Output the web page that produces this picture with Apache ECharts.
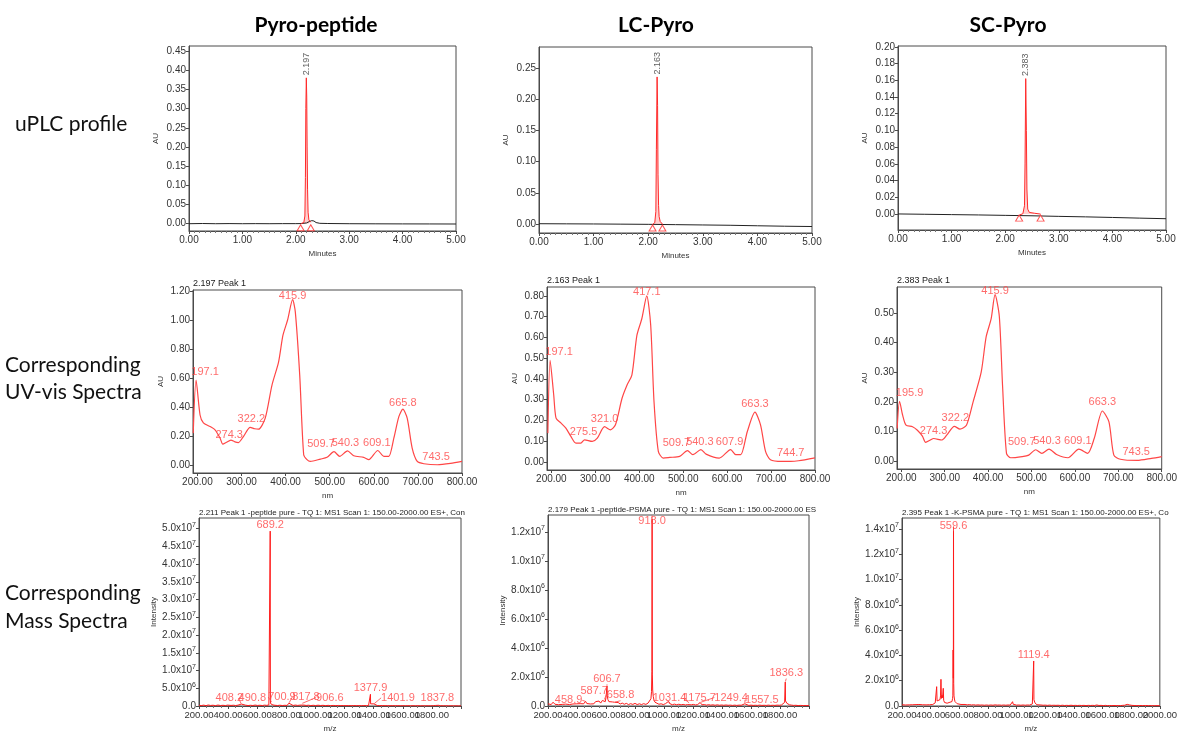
<!DOCTYPE html>
<html>
<head>
<meta charset="utf-8">
<script src="https://cdn.jsdelivr.net/npm/echarts@6/dist/echarts.min.js"></script>
<style>
  html, body { margin: 0; padding: 0; background: #fff; }
  #chart { width: 1180px; height: 734px; }
</style>
</head>
<body>
<div id="chart"></div>
<script>
// ---- text
var columnTitles = ['Pyro-peptide', 'LC-Pyro', 'SC-Pyro'];
var rowTitles = [['uPLC profile'], ['Corresponding', 'UV-vis Spectra'], ['Corresponding', 'Mass Spectra']];
var uvTitles = ['2.197 Peak 1', '2.163 Peak 1', '2.383 Peak 1'];
var msTitles = [
  '2.211 Peak 1 -peptide pure - TQ 1: MS1 Scan 1: 150.00-2000.00 ES+, Con',
  '2.179 Peak 1 -peptide-PSMA pure - TQ 1: MS1 Scan 1: 150.00-2000.00 ES',
  '2.395 Peak 1 -K-PSMA pure - TQ 1: MS1 Scan 1: 150.00-2000.00 ES+, Co'
];

// ---- uPLC profiles: [minutes, AU]
var plcBase1 = [[0,0],[0.25,0.0005],[0.5,0],[0.75,0.0003],[1,0],[1.25,0.0002],[1.5,0],[1.75,0.0002],[2,0.0002],[2.1,0.0003],[2.2,0.002],[2.26,0.006],[2.3,0.008],[2.34,0.007],[2.38,0.003],[2.45,0.001],[2.6,0.0005],[3,0],[3.5,-0.0003],[4,-0.0005],[4.5,-0.0006],[5,-0.0008]];
var plcPeak1 = [[2.10,0.0005],[2.15,0.003],[2.17,0.02],[2.18,0.12],[2.188,0.30],[2.197,0.38],[2.205,0.33],[2.212,0.2],[2.22,0.09],[2.23,0.03],[2.245,0.01],[2.28,0.004]];
var plcMarks1 = [[2.09,0],[2.28,0]];
var plcApex1 = [[2.197,0.38]];

var plcBase2 = [[0,0.0005],[0.5,0.0003],[1,0.0001],[1.5,-0.0002],[2,-0.0005],[2.5,-0.001],[3,-0.0015],[3.5,-0.002],[4,-0.0028],[4.5,-0.0035],[5,-0.004]];
var plcPeak2 = [[2.08,-0.0006],[2.12,0.002],[2.14,0.02],[2.15,0.12],[2.163,0.236],[2.172,0.19],[2.18,0.08],[2.19,0.03],[2.2,0.012],[2.22,0.004],[2.26,0.0]];
var plcMarks2 = [[2.08,0],[2.26,0]];
var plcApex2 = [[2.163,0.236]];

var plcBase3 = [[0,0.0002],[0.5,-0.0002],[1,-0.0006],[1.5,-0.001],[2,-0.0015],[2.5,-0.002],[3,-0.0027],[3.5,-0.0033],[4,-0.004],[4.5,-0.0048],[5,-0.0055]];
var plcPeak3 = [[2.27,-0.001],[2.33,0.0005],[2.36,0.01],[2.37,0.06],[2.383,0.162],[2.395,0.1],[2.405,0.03],[2.42,0.006],[2.45,0.002],[2.55,0.001],[2.66,0.0]];
var plcMarks3 = [[2.26,0],[2.66,0]];
var plcApex3 = [[2.383,0.162]];

var plcTicks1 = [0,0.05,0.10,0.15,0.20,0.25,0.30,0.35,0.40,0.45];
var plcTicks2 = [0,0.05,0.10,0.15,0.20,0.25];
var plcTicks3 = [0,0.02,0.04,0.06,0.08,0.10,0.12,0.14,0.16,0.18,0.20];

// ---- UV-vis spectra: [nm, AU]
var uv1 = [[190.5,0.22],[197,0.586],[206,0.345],[213.6,0.29],[229,0.265],[240,0.243],[251.5,0.185],[257.6,0.144],[265,0.155],[276,0.172],[285,0.16],[293,0.155],[305,0.2],[319.7,0.26],[330,0.25],[338.6,0.247],[353.8,0.323],[369,0.55],[384,0.71],[394,0.895],[404.5,1.0],[415.9,1.14],[422,1.056],[432,0.62],[441,0.071],[448.5,0.037],[456,0.025],[479,0.041],[494,0.053],[509.7,0.092],[522.7,0.06],[540.3,0.097],[554.5,0.064],[577,0.053],[588.6,0.037],[609.1,0.1],[622.7,0.06],[634,0.06],[645.4,0.185],[656.8,0.334],[665.8,0.385],[675.7,0.323],[687,0.117],[698.5,0.025],[713.6,0.009],[744,0.002],[774,0.011],[800,0.025]];
var uvPeaks1 = [[197.1,0.586],[274.3,0.172],[322.2,0.26],[415.9,1.14],[509.7,0.092],[540.3,0.097],[609.1,0.1],[665.8,0.385],[743.5,0.002]];

var uv2 = [[192,0.139],[197.1,0.49],[205.3,0.323],[210.6,0.211],[222,0.187],[233,0.163],[244.4,0.123],[255.7,0.091],[267,0.091],[275.5,0.107],[293,0.099],[304.5,0.115],[321,0.17],[334.5,0.155],[345.8,0.179],[360.8,0.307],[372,0.37],[383.3,0.42],[394.6,0.61],[405.8,0.69],[417.1,0.80],[426,0.66],[433.6,0.29],[443.4,0.051],[454.6,0.019],[469.6,0.022],[492,0.027],[509.7,0.055],[522,0.035],[540.3,0.06],[552,0.038],[582,0.019],[607.9,0.06],[619.8,0.035],[631,0.035],[646,0.147],[663.3,0.24],[676,0.179],[687.4,0.051],[698.6,0.011],[725,0.003],[744.7,0.003],[762.5,0.006],[800,0.02]];
var uvPeaks2 = [[197.1,0.49],[275.5,0.107],[321.0,0.17],[417.1,0.80],[509.7,0.055],[540.3,0.06],[607.9,0.06],[663.3,0.24],[744.7,0.003]];

var uv3 = [[190.4,0.11],[195.9,0.202],[203,0.155],[210.8,0.121],[225.8,0.116],[237,0.104],[248.5,0.084],[256,0.063],[267,0.071],[274.3,0.076],[293.7,0.071],[305,0.088],[322.2,0.117],[335,0.108],[350,0.121],[365.4,0.2],[384,0.30],[395.5,0.42],[406.9,0.48],[415.9,0.562],[425.7,0.49],[433.2,0.256],[442.3,0.026],[452,0.011],[478.5,0.015],[493.6,0.02],[509.7,0.038],[523.7,0.026],[540.3,0.04],[557.7,0.022],[584,0.011],[609.1,0.04],[629.3,0.026],[644.4,0.076],[663.3,0.169],[678.3,0.133],[689.7,0.02],[704.8,0.006],[743.5,0.002],[776.5,0.009],[800,0.015]];
var uvPeaks3 = [[195.9,0.202],[274.3,0.076],[322.2,0.117],[415.9,0.562],[509.7,0.038],[540.3,0.04],[609.1,0.04],[663.3,0.169],[743.5,0.002]];

var uvTicksX = [200,300,400,500,600,700,800];
var uvTicks1 = [0,0.2,0.4,0.6,0.8,1.0,1.2];
var uvTicks2 = [0,0.1,0.2,0.3,0.4,0.5,0.6,0.7,0.8];
var uvTicks3 = [0,0.1,0.2,0.3,0.4,0.5];

// ---- mass spectra: [m/z, intensity]
var ms1 = [[200,2.0e5],[215,1.2e5],[232,2.4e5],[248,1.0e5],[263,2.8e5],[280,1.5e5],[296,2.2e5],[313,1.1e5],[330,2.6e5],[348,1.4e5],[365,2.0e5],[382,1.2e5],[396,2.5e5],[408.2,6.0e5],[420,1.6e5],[437,2.2e5],[452,1.3e5],[468,2.4e5],[480,1.8e5],[490.8,5.5e5],[503,1.5e5],[520,2.3e5],[537,1.2e5],[553,2.0e5],[570,1.4e5],[586,2.6e5],[602,1.5e5],[618,2.1e5],[635,1.3e5],[650,2.4e5],[666,1.8e5],[680,3.0e5],[687.5,5.0e5],[689.2,4.93e7],[690.5,1.4e6],[693,6.0e5],[700.9,1.1e6],[708,3.0e5],[722,2.0e5],[740,1.4e5],[756,2.2e5],[772,1.3e5],[790,2.0e5],[805,1.5e5],[817.8,8.0e5],[830,2.4e5],[846,1.5e5],[862,2.6e5],[878,1.6e5],[893,2.4e5],[906.6,7.0e5],[920,2.6e5],[936,1.5e5],[952,2.2e5],[968,1.2e5],[985,2.0e5],[1000,1.3e5],[1018,2.2e5],[1035,1.4e5],[1052,1.9e5],[1070,1.1e5],[1088,1.8e5],[1105,1.0e5],[1122,1.6e5],[1140,1.0e5],[1158,1.5e5],[1175,0.9e5],[1192,1.4e5],[1210,0.9e5],[1228,1.3e5],[1245,0.8e5],[1262,1.4e5],[1280,0.9e5],[1298,1.2e5],[1315,0.8e5],[1332,1.3e5],[1350,0.9e5],[1365,1.5e5],[1376,4.0e5],[1377.9,3.3e6],[1379,6.0e5],[1385,2.0e5],[1401.9,6.0e5],[1410,2.0e5],[1425,1.2e5],[1442,0.9e5],[1460,1.3e5],[1478,0.8e5],[1495,1.1e5],[1512,0.7e5],[1530,1.0e5],[1548,0.7e5],[1565,1.0e5],[1582,0.6e5],[1600,0.9e5],[1618,0.6e5],[1635,0.9e5],[1652,0.6e5],[1670,0.8e5],[1688,0.5e5],[1705,0.8e5],[1722,0.5e5],[1740,0.7e5],[1758,0.5e5],[1775,0.7e5],[1792,0.5e5],[1810,0.8e5],[1825,1.5e5],[1837.8,7.0e5],[1845,2.0e5],[1860,0.8e5],[1878,0.5e5],[1895,0.7e5],[1912,0.4e5],[1930,0.6e5],[1948,0.4e5],[1965,0.5e5],[1982,0.3e5],[2000,0.4e5]];
var msPeaks1 = [[689.2,4.93e7],[408.2,6.0e5],[490.8,5.5e5],[700.9,1.1e6],[817.8,8.0e5],[906.6,7.0e5],[1377.9,3.3e6],[1401.9,6.0e5],[1837.8,7.0e5]];

var ms2 = [[200,1.5e5],[210,2.2e5],[222,1.0e5],[235,2.6e5],[248,1.2e5],[260,1.8e5],[272,0.9e5],[285,2.0e5],[298,1.1e5],[310,2.4e5],[322,1.3e5],[335,2.0e5],[348,1.0e5],[360,2.3e5],[372,1.4e5],[385,2.6e5],[398,1.5e5],[410,2.8e5],[422,1.6e5],[435,2.5e5],[446,1.5e5],[458.9,3.2e5],[468,1.7e5],[480,2.6e5],[492,1.4e5],[505,2.4e5],[516,1.5e5],[528,3.0e5],[540,1.8e5],[552,3.4e5],[563,2.0e5],[575,3.8e5],[587.7,4.2e5],[595,3.0e5],[600,6.0e5],[603,9.0e5],[606.7,1.39e6],[609,7.0e5],[613,4.5e5],[620,3.0e5],[630,2.2e5],[645,2.8e5],[658.8,2.6e5],[670,1.8e5],[684,2.4e5],[698,1.4e5],[712,2.0e5],[726,1.2e5],[740,1.8e5],[755,1.0e5],[770,1.6e5],[785,1.1e5],[800,1.8e5],[815,1.0e5],[830,1.5e5],[845,1.0e5],[860,1.6e5],[875,1.1e5],[890,2.0e5],[902,2.6e5],[910,5.0e5],[914,1.0e6],[916.5,2.4e6],[918.0,1.29e7],[919.5,2.2e6],[922,1.1e6],[926,6.5e5],[931,4.0e5],[938,2.6e5],[950,1.6e5],[965,1.2e5],[980,1.5e5],[995,1.0e5],[1010,1.6e5],[1020,1.2e5],[1031.4,3.2e5],[1042,1.5e5],[1058,0.9e5],[1072,1.3e5],[1088,0.8e5],[1102,1.2e5],[1118,0.8e5],[1132,1.1e5],[1148,0.7e5],[1162,1.0e5],[1175.7,2.0e5],[1188,0.8e5],[1202,1.1e5],[1218,0.7e5],[1232,1.0e5],[1249.4,2.4e5],[1262,0.8e5],[1278,1.0e5],[1292,0.6e5],[1308,0.9e5],[1322,0.6e5],[1338,0.8e5],[1352,0.5e5],[1368,0.8e5],[1382,0.5e5],[1398,0.7e5],[1412,0.5e5],[1428,0.7e5],[1442,0.5e5],[1458,0.6e5],[1472,0.4e5],[1488,0.6e5],[1502,0.4e5],[1518,0.6e5],[1532,0.5e5],[1545,0.8e5],[1557.5,1.5e5],[1570,0.6e5],[1585,0.4e5],[1600,0.6e5],[1615,0.4e5],[1630,0.5e5],[1645,0.4e5],[1660,0.6e5],[1675,0.4e5],[1690,0.5e5],[1705,0.4e5],[1720,0.6e5],[1735,0.4e5],[1750,0.5e5],[1765,0.4e5],[1780,0.6e5],[1795,0.5e5],[1810,0.7e5],[1822,1.0e5],[1832,2.5e5],[1836.3,1.65e6],[1838,3.5e5],[1842,2.6e5],[1848,1.8e5],[1856,1.2e5],[1866,0.8e5],[1880,0.6e5],[1895,0.4e5],[1910,0.5e5],[1925,0.3e5],[1940,0.4e5],[1960,0.3e5],[1980,0.3e5],[2000,0.3e5]];
var msPeaks2 = [[918.0,1.29e7],[458.9,3.2e5],[587.7,4.2e5],[606.7,1.39e6],[658.8,2.6e5],[1031.4,3.2e5],[1175.7,2.0e5],[1249.4,2.4e5],[1557.5,1.5e5],[1836.3,1.65e6]];

var ms3 = [[200,1.0e5],[212,1.3e5],[225,0.8e5],[238,1.2e5],[250,0.9e5],[262,1.4e5],[275,1.0e5],[288,1.5e5],[298,1.1e5],[308,1.6e5],[318,1.2e5],[330,1.4e5],[342,1.0e5],[355,1.3e5],[368,0.9e5],[380,1.2e5],[392,1.0e5],[405,1.5e5],[415,1.2e5],[425,2.0e5],[432,2.5e5],[438,4.0e5],[442,1.53e6],[445,4.0e5],[452,2.5e5],[458,3.0e5],[465,5.0e5],[469,8.0e5],[472,2.11e6],[475,6.0e5],[479,8.5e5],[483,6.5e5],[488,1.4e6],[491,4.5e5],[497,2.8e5],[505,2.0e5],[515,2.2e5],[525,1.8e5],[535,3.0e5],[543,4.0e5],[549,3.5e5],[553,6.0e5],[555,8.0e5],[557,4.43e6],[558.5,2.2e6],[559.6,1.418e7],[561,1.8e6],[563,8.0e5],[566,5.5e5],[570,3.5e5],[576,2.5e5],[585,1.8e5],[598,1.5e5],[612,1.2e5],[625,1.0e5],[640,1.2e5],[655,0.9e5],[670,1.1e5],[685,0.8e5],[700,1.0e5],[715,0.7e5],[730,0.9e5],[745,0.7e5],[760,0.8e5],[775,0.6e5],[790,0.8e5],[805,0.6e5],[820,0.8e5],[835,0.6e5],[850,0.9e5],[865,0.7e5],[880,0.8e5],[895,0.6e5],[910,0.8e5],[925,0.6e5],[940,0.8e5],[955,0.7e5],[966,1.2e5],[972,3.4e5],[976,1.4e5],[985,0.8e5],[1000,0.7e5],[1015,0.8e5],[1030,0.6e5],[1045,0.8e5],[1060,0.6e5],[1075,0.8e5],[1090,0.7e5],[1102,1.0e5],[1110,1.6e5],[1116,2.2e5],[1119.4,3.56e6],[1121,5.0e5],[1124,3.5e5],[1128,2.5e5],[1134,1.5e5],[1142,1.0e5],[1155,0.7e5],[1170,0.8e5],[1185,0.6e5],[1200,0.7e5],[1215,0.5e5],[1230,0.7e5],[1245,0.5e5],[1260,0.6e5],[1275,0.5e5],[1290,0.6e5],[1305,0.4e5],[1320,0.6e5],[1335,0.4e5],[1350,0.5e5],[1365,0.4e5],[1380,0.6e5],[1395,0.4e5],[1410,0.5e5],[1425,0.4e5],[1440,0.5e5],[1455,0.4e5],[1470,0.5e5],[1485,0.3e5],[1500,0.5e5],[1515,0.4e5],[1530,0.5e5],[1545,0.4e5],[1560,0.8e5],[1575,0.4e5],[1590,0.5e5],[1605,0.3e5],[1620,0.5e5],[1635,0.3e5],[1650,0.4e5],[1665,0.3e5],[1680,0.4e5],[1695,0.3e5],[1710,0.4e5],[1725,0.3e5],[1740,0.5e5],[1755,0.6e5],[1765,1.0e5],[1772,1.3e5],[1780,1.1e5],[1790,0.8e5],[1805,0.5e5],[1820,0.4e5],[1840,0.3e5],[1860,0.4e5],[1880,0.3e5],[1900,0.4e5],[1920,0.3e5],[1940,0.3e5],[1960,0.2e5],[1980,0.3e5],[2000,0.2e5]];
var msPeaks3 = [[559.6,1.418e7],[1119.4,3.56e6]];

// m/z tick labels, split over two label rows-in-one so none get dropped
var msTicksA = [200,600,1000,1400,1800];
var msTicksB = [400,800,1200,1600];
var msTicksB3 = [400,800,1200,1600,2000];

// ---- layout / style (pixels)
var FONT = '"Liberation Sans", Arial, sans-serif';
var TITLE_FONT = 'Lato, "Liberation Sans", sans-serif';
var RED = '#ff4646';
var MSRED = '#ff1a1a';
var AXIS = '#4a4a4a';
var TXT = '#333';

var boxes = [
  [189, 46, 267, 185], [539, 47, 273, 186], [898, 46, 268, 184],
  [193, 290, 269, 183], [547, 287, 268, 183], [897, 287, 270, 182],
  [199, 518, 262, 193], [548, 515, 261, 193], [902, 518, 261, 189]
];
var yRanges = [
  [-0.019, 0.463], [-0.0144, 0.284], [-0.019, 0.201],
  [-0.055, 1.207], [-0.0386, 0.843], [-0.027, 0.588],
  [0, 5.3e7], [0, 1.317e7], [0, 1.487e7]
];
// label shifts [dx, dy] in px for peak labels
var uvShift1 = [[9,0],[-1,3],[0,0],[0,4],[-13,0],[-2,0],[-1,0],[0,2],[-1,0]];
var uvShift2 = [[9,0],[-1,0],[0,0],[0,4],[-11,0],[-1,0],[-1,0],[0,0],[0,0]];
var uvShift3 = [[10,0],[0,0],[1,0],[0,4],[-14,0],[-2,0],[-1,0],[0,-1],[-1,0]];
var msShift1 = [[0,0],[0,0],[11,0],[10,1],[17,0],[28,0],[0,0],[24,0],[0,0]];
var msShift2 = [[0,8],[-17,5],[-10,-3],[0,-1],[6,-1],[1,3],[10,1],[31,1],[17,2],[1,-3]];
var msShift3 = [[0,5],[0,0]];

function merge(a, b) {
  for (var k in (b || {})) {
    if (a[k] && typeof a[k] === 'object' && !Array.isArray(a[k]) && typeof b[k] === 'object' && !Array.isArray(b[k])) {
      a[k] = merge(a[k], b[k]);
    } else {
      a[k] = b[k];
    }
  }
  return a;
}
function fix2(v) { return v.toFixed(2); }
function sci(v) {
  if (v === 0) return '{m|0.0}';
  var e = Math.floor(Math.log10(v) + 1e-9);
  var m = v / Math.pow(10, e);
  return '{m|' + m.toFixed(1) + 'x10}{e|' + e + '}';
}

function xAxis(g, min, max, name, extra) {
  return merge({
    gridIndex: g, type: 'value', position: 'bottom', min: min, max: max, name: name,
    nameLocation: 'middle', nameGap: 19,
    nameTextStyle: {fontSize: 8, color: TXT, fontFamily: FONT},
    axisLine: {onZero: false, lineStyle: {color: AXIS}},
    axisTick: {length: 3, lineStyle: {color: AXIS}},
    axisLabel: {fontSize: 10, color: TXT, fontFamily: FONT, margin: 4, formatter: fix2},
    splitLine: {show: false}
  }, extra);
}
function yAxis(g, name, gap, extra) {
  return merge({
    gridIndex: g, type: 'value', min: yRanges[g][0], max: yRanges[g][1], name: name,
    nameLocation: 'middle', nameGap: gap, nameRotate: 90,
    nameTextStyle: {fontSize: 8, color: TXT, fontFamily: FONT},
    axisLine: {onZero: false, lineStyle: {color: AXIS}},
    axisTick: {length: 3, lineStyle: {color: AXIS}},
    axisLabel: {fontSize: 10, color: TXT, fontFamily: FONT, margin: 3, formatter: fix2},
    splitLine: {show: false}
  }, extra);
}

var option = {
  backgroundColor: '#fff',
  animation: false,
  grid: [], xAxis: [], yAxis: [], series: [], graphic: []
};

boxes.forEach(function (b) {
  option.grid.push({left: b[0], top: b[1], width: b[2], height: b[3], show: true,
    borderColor: AXIS, borderWidth: 1, containLabel: false});
});

// axes
var plcTicks = [plcTicks1, plcTicks2, plcTicks3];
var uvTicks = [uvTicks1, uvTicks2, uvTicks3];
for (var c = 0; c < 3; c++) {
  option.xAxis.push(xAxis(c, 0, 5, 'Minutes', {interval: 1,
    minorTick: {show: true, splitNumber: 10, length: 2, lineStyle: {color: '#777'}}}));
  option.yAxis.push(yAxis(c, 'AU', 29, {
    axisLabel: {customValues: plcTicks[c]}, axisTick: {customValues: plcTicks[c]}}));
}
for (c = 0; c < 3; c++) {
  option.xAxis.push(xAxis(3 + c, 190, 800, 'nm', {
    axisLabel: {customValues: uvTicksX}, axisTick: {customValues: uvTicksX}}));
  option.yAxis.push(yAxis(3 + c, 'AU', 28, {
    axisLabel: {customValues: uvTicks[c]}, axisTick: {customValues: uvTicks[c]}}));
}
var msIntervals = [5e6, 2e6, 2e6];
for (c = 0; c < 3; c++) {
  option.xAxis.push(xAxis(6 + c, 200, 2000, 'm/z', {interval: 200,
    axisLabel: {customValues: msTicksA, fontSize: 9.5, showMinLabel: true, showMaxLabel: true},
    minorTick: {show: true, splitNumber: 4, length: 2, lineStyle: {color: '#777'}}}));
  option.yAxis.push(yAxis(6 + c, 'Intensity', 41, {
    interval: msIntervals[c],
    axisLabel: {formatter: sci, showMaxLabel: false,
      rich: {m: {fontSize: 10, color: TXT, fontFamily: FONT, lineHeight: 14},
             e: {fontSize: 7, color: TXT, fontFamily: FONT, verticalAlign: 'top', lineHeight: 14}}}
  }));
}
// second label set for the m/z axes (x axes 9..11)
for (c = 0; c < 3; c++) {
  option.xAxis.push(xAxis(6 + c, 200, 2000, '', {
    axisLine: {show: false}, axisTick: {show: false},
    axisLabel: {customValues: c === 2 ? msTicksB3 : msTicksB, fontSize: 9.5,
      showMinLabel: true, showMaxLabel: true}}));
}

// uPLC series
var plcBase = [plcBase1, plcBase2, plcBase3];
var plcPeak = [plcPeak1, plcPeak2, plcPeak3];
var plcMarks = [plcMarks1, plcMarks2, plcMarks3];
var plcApex = [plcApex1, plcApex2, plcApex3];
for (c = 0; c < 3; c++) {
  option.series.push({type: 'line', xAxisIndex: c, yAxisIndex: c, data: plcBase[c],
    symbol: 'none', lineStyle: {color: '#222', width: 1}, silent: true});
  option.series.push({type: 'line', xAxisIndex: c, yAxisIndex: c, data: plcPeak[c],
    symbol: 'none', lineStyle: {color: '#ff2a2a', width: 1},
    areaStyle: {color: 'rgba(255,60,60,0.35)', origin: 0}, silent: true, z: 3});
  option.series.push({type: 'scatter', xAxisIndex: c, yAxisIndex: c, data: plcMarks[c],
    symbol: 'triangle', symbolSize: [7, 6], symbolOffset: [0, 4],
    itemStyle: {color: '#fff', borderColor: '#ff2a2a', borderWidth: 1}, silent: true, z: 4});
  option.series.push({type: 'scatter', xAxisIndex: c, yAxisIndex: c, data: plcApex[c],
    symbolSize: 1, itemStyle: {color: 'rgba(0,0,0,0)'}, silent: true, z: 5,
    label: {show: true, position: 'top', distance: 2, rotate: 90, align: 'left', verticalAlign: 'middle',
      fontSize: 9, color: TXT, fontFamily: FONT,
      formatter: function (p) { return p.value[0].toFixed(3); }}});
}

// UV series
var uvData = [uv1, uv2, uv3];
var uvPeaks = [uvPeaks1, uvPeaks2, uvPeaks3];
var uvShift = [uvShift1, uvShift2, uvShift3];
for (c = 0; c < 3; c++) {
  (function (c) {
    option.series.push({type: 'line', xAxisIndex: 3 + c, yAxisIndex: 3 + c, data: uvData[c],
      symbol: 'none', smooth: 0.25, lineStyle: {color: RED, width: 1.2}, silent: true});
    option.series.push({type: 'scatter', xAxisIndex: 3 + c, yAxisIndex: 3 + c, data: uvPeaks[c],
      symbolSize: 1, itemStyle: {color: 'rgba(0,0,0,0)'}, silent: true, z: 5,
      label: {show: true, position: 'top', distance: 2, fontSize: 11, color: RED, fontFamily: FONT,
        formatter: function (p) { return p.value[0].toFixed(1); }},
      labelLayout: function (p) { var s = uvShift[c][p.dataIndex]; return {dx: s[0], dy: s[1]}; }});
  })(c);
}

// MS series
var msData = [ms1, ms2, ms3];
var msPeaks = [msPeaks1, msPeaks2, msPeaks3];
var msShift = [msShift1, msShift2, msShift3];
for (c = 0; c < 3; c++) {
  (function (c) {
    var d = msData[c].slice().sort(function (a, b) { return a[0] - b[0]; });
    option.series.push({type: 'line', xAxisIndex: 6 + c, yAxisIndex: 6 + c, data: d,
      symbol: 'none', lineStyle: {color: MSRED, width: 1}, silent: true});
    option.series.push({type: 'scatter', xAxisIndex: 6 + c, yAxisIndex: 6 + c, data: msPeaks[c],
      symbolSize: 1, itemStyle: {color: 'rgba(0,0,0,0)'}, silent: true, z: 5,
      label: {show: true, position: 'top', distance: 0, fontSize: 11, color: RED, fontFamily: FONT,
        formatter: function (p) { return p.value[0].toFixed(1); }},
      labelLayout: function (p) { var s = msShift[c][p.dataIndex]; return {dx: s[0], dy: s[1]}; },
      labelLine: {show: true, lineStyle: {color: RED, width: 0.8}}});
  })(c);
}

// text
var colX = [316, 656, 1008];
columnTitles.forEach(function (t, i) {
  option.graphic.push({type: 'text', x: colX[i], y: 25, silent: true,
    style: {text: t, font: 'bold 21px ' + TITLE_FONT, fill: '#000', align: 'center', verticalAlign: 'middle'}});
});
var rowPos = [[15, [124]], [5, [365, 392]], [5, [593, 621]]];
rowTitles.forEach(function (lines, r) {
  lines.forEach(function (t, k) {
    option.graphic.push({type: 'text', x: rowPos[r][0], y: rowPos[r][1][k], silent: true,
      style: {text: t, font: '21px ' + TITLE_FONT, fill: '#111', align: 'left', verticalAlign: 'middle'}});
  });
});
uvTitles.forEach(function (t, i) {
  var b = boxes[3 + i];
  option.graphic.push({type: 'text', x: b[0], y: b[1] - 6, silent: true,
    style: {text: t, font: '9px ' + FONT, fill: '#222', align: 'left', verticalAlign: 'middle'}});
});
msTitles.forEach(function (t, i) {
  var b = boxes[6 + i];
  option.graphic.push({type: 'text', x: b[0], y: b[1] - 5, silent: true,
    style: {text: t, font: '8px ' + FONT, fill: '#222', align: 'left', verticalAlign: 'middle'}});
});

var chart = echarts.init(document.getElementById('chart'), null, {renderer: 'canvas'});
chart.setOption(option);
</script>
</body>
</html>
